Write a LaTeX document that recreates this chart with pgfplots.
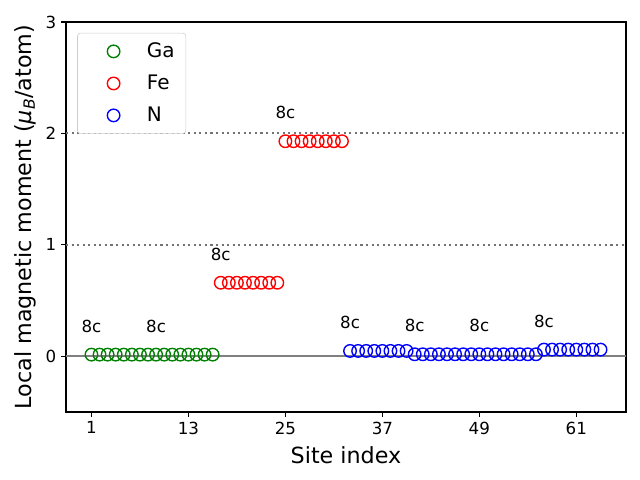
\documentclass[border=0pt]{standalone}
\usepackage{fontspec}
\setmainfont{DejaVu Sans}
\usepackage{pgfplots}
\pgfplotsset{compat=1.18}
\definecolor{mgreen}{rgb}{0,0.5,0}
\begin{document}
\begin{tikzpicture}
\useasboundingbox (-47.52pt,-48.96pt) rectangle (413.28pt,296.64pt);
\begin{axis}[
  at={(0,0)}, anchor=south west,
  scale only axis, width=403.2pt, height=280.8pt,
  xmin=-2.15, xmax=67.15, ymin=-0.5, ymax=3,
  xtick={1,13,25,37,49,61}, ytick={0,1,2,3},
  tick align=outside, tick pos=left, major tick length=3.5pt,
  every tick/.style={black, line width=0.8pt},
  axis line style={line width=0.8pt},
  /pgf/number format/assume math mode=true,
  ticklabel style={font=\fontsize{12}{14}\selectfont},
  xlabel={Site index},
  ylabel={Local magnetic moment (\textit{μ}\textsubscript{\textit{B}}/atom)},
  label style={font=\fontsize{16}{19}\selectfont},
  xlabel style={at={(axis description cs:0.5,-0.11)}, anchor=center},
  ylabel style={at={(axis description cs:-0.073,0.5)}, anchor=center},
  legend style={at={(0.02,0.972)}, anchor=north west, draw=black!20, rounded corners=2pt,
    font=\fontsize{14.4}{17}\selectfont, row sep=7pt, inner xsep=4pt, inner ysep=5pt,
    nodes={inner xsep=4pt}},
  legend cell align=left,
  legend image code/.code={\path[draw=none] (0,0) -- (42pt,0); \draw[#1] (22pt,0pt) circle (4.5pt);},
  clip=false,
]
\addplot[black!50, line width=1.5pt, forget plot] coordinates {(-2.15,0) (67.15,0)};
\addplot[black!55, line width=1.5pt, dash pattern=on 1.5pt off 2.5pt, forget plot] coordinates {(-2.15,1) (67.15,1)};
\addplot[black!55, line width=1.5pt, dash pattern=on 1.5pt off 2.5pt, forget plot] coordinates {(-2.15,2) (67.15,2)};
\addplot[only marks, mark=o, mark size=4.5pt, mgreen, line width=1pt, mark options={fill=white}] coordinates {
(1,0.015)(2,0.015)(3,0.015)(4,0.015)(5,0.015)(6,0.015)(7,0.015)(8,0.015)
(9,0.015)(10,0.015)(11,0.015)(12,0.015)(13,0.015)(14,0.015)(15,0.015)(16,0.015)};
\addlegendentry{Ga}
\addplot[only marks, mark=o, mark size=4.5pt, red, line width=1pt, mark options={fill=white}] coordinates {
(17,0.66)(18,0.66)(19,0.66)(20,0.66)(21,0.66)(22,0.66)(23,0.66)(24,0.66)
(25,1.93)(26,1.93)(27,1.93)(28,1.93)(29,1.93)(30,1.93)(31,1.93)(32,1.93)};
\addlegendentry{Fe}
\addplot[only marks, mark=o, mark size=4.5pt, blue, line width=1pt, mark options={fill=white}] coordinates {
(33,0.048)(34,0.048)(35,0.048)(36,0.048)(37,0.048)(38,0.048)(39,0.048)(40,0.048)
(41,0.018)(42,0.018)(43,0.018)(44,0.018)(45,0.018)(46,0.018)(47,0.018)(48,0.018)
(49,0.018)(50,0.018)(51,0.018)(52,0.018)(53,0.018)(54,0.018)(55,0.018)(56,0.018)
(57,0.06)(58,0.06)(59,0.06)(60,0.06)(61,0.06)(62,0.06)(63,0.06)(64,0.06)};
\addlegendentry{N}
\begin{scope}[every node/.style={anchor=base, inner sep=0pt, font=\fontsize{12}{14}\selectfont}]
\node at (axis cs:1,0.215) {8c};
\node at (axis cs:9,0.215) {8c};
\node at (axis cs:17,0.86) {8c};
\node at (axis cs:25,2.13) {8c};
\node at (axis cs:33,0.248) {8c};
\node at (axis cs:41,0.218) {8c};
\node at (axis cs:49,0.218) {8c};
\node at (axis cs:57,0.26) {8c};
\end{scope}
\end{axis}
\end{tikzpicture}
\end{document}
